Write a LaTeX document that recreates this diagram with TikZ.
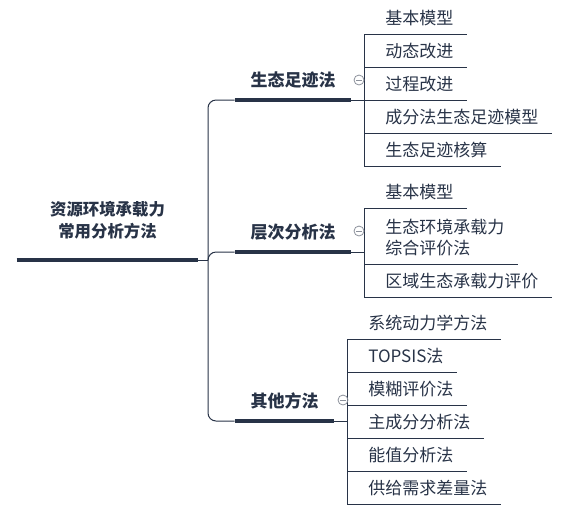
\documentclass[tikz,border=0pt]{standalone}
\usepackage{fontspec}
\newfontfamily\cjk{Noto Sans CJK SC}
\usetikzlibrary{positioning}
\definecolor{ink}{HTML}{283347}
\definecolor{foldgray}{HTML}{8C919B}

\begin{document}
\begin{tikzpicture}[x=0.75pt,y=-0.75pt,
  every node/.style={text=ink},
  thin line/.style={draw=ink,line width=0.75pt},
  bar/.style={draw=ink,line width=3pt},
  root/.style={anchor=south,align=center,inner sep=0pt,minimum width=135.75pt,
    text depth=17pt,font=\cjk\bfseries\fontsize{12.3}{16.5}\selectfont},
  branch/.style={anchor=south,inner sep=0pt,text depth=10pt,
    font=\cjk\bfseries\fontsize{12.75}{15}\selectfont},
  leaf/.style={anchor=south west,inner xsep=9.75pt,inner ysep=0pt,text depth=6.8pt,
    align=left,font=\cjk\fontsize{12.75}{15.75}\selectfont},
  fold/.style={circle,draw=foldgray,line width=0.6pt,minimum size=7.5pt,inner sep=0pt,
    path picture={\draw[foldgray,line width=0.6pt]
      ([xshift=-2pt]path picture bounding box.center) --
      ([xshift=2pt]path picture bounding box.center);}}]
\useasboundingbox (0,0) rectangle (575,512);

% root and main branches
\node[root] (r) at (107.5,260) {资源环境承载力\\常用分析方法};
\node[branch,minimum width=87pt] (b1) at (293,100) {生态足迹法};
\node[branch,minimum width=87pt] (b2) at (293,252) {层次分析法};
\node[branch,minimum width=74.25pt] (b3) at (284.5,421) {其他方法};
\coordinate (hub) at (208,260);
\coordinate (s1) at (364,0);
\coordinate (s2) at (364,0);
\coordinate (s3) at (347,0);

% leaves
\node[leaf] (a1) at (372,34) {基本模型};
\node[leaf] (a2) at (372,67) {动态改进};
\node[leaf] (a3) at (372,100) {过程改进};
\node[leaf] (a4) at (372,133) {成分法生态足迹模型};
\node[leaf] (a5) at (372,166) {生态足迹核算};

\node[leaf] (c1) at (372,208) {基本模型};
\node[leaf] (c2) at (372,264) {生态环境承载力\\综合评价法};
\node[leaf] (c3) at (372,297) {区域生态承载力评价};

\node[leaf] (d1) at (355,339) {系统动力学方法};
\node[leaf] (d2) at (355,372) {TOPSIS法};
\node[leaf] (d3) at (355,405) {模糊评价法};
\node[leaf] (d4) at (355,438) {主成分分析法};
\node[leaf] (d5) at (355,471) {能值分析法};
\node[leaf] (d6) at (355,504) {供给需求差量法};

% connectors
\draw[thin line] (r.south east) -- (hub);
\draw[thin line,rounded corners=6pt] (hub) |- (b1.south west);
\draw[thin line,rounded corners=6pt] (hub) |- (b2.south west);
\draw[thin line,rounded corners=6pt] (hub) |- (b3.south west);
\draw[thin line] (b1.south east) -- (s1 |- b1.south);
\draw[thin line] (b2.south east) -- (s2 |- b2.south);
\draw[thin line] (b3.south east) -- (s3 |- b3.south);

\draw[thin line] (s1 |- a1.south) -- (s1 |- a5.south);
\foreach \n in {a1,a2,a3,a4,a5}
  \draw[thin line] (s1 |- \n.south) -- (\n.south east);
\draw[thin line] (s2 |- c1.south) -- (s2 |- c3.south);
\foreach \n in {c1,c2,c3}
  \draw[thin line] (s2 |- \n.south) -- (\n.south east);
\draw[thin line] (s3 |- d1.south) -- (s3 |- d6.south);
\foreach \n in {d1,d2,d3,d4,d5,d6}
  \draw[thin line] (s3 |- \n.south) -- (\n.south east);

% thick bars
\draw[bar] (r.south west) -- (r.south east);
\draw[bar] (b1.south west) -- (b1.south east);
\draw[bar] (b2.south west) -- (b2.south east);
\draw[bar] (b3.south west) -- (b3.south east);

% fold markers
\node[fold] (f1) at (359,80) {};
\node[fold] (f2) at (359,231) {};
\node[fold] (f3) at (343,400) {};
\end{tikzpicture}
\end{document}
